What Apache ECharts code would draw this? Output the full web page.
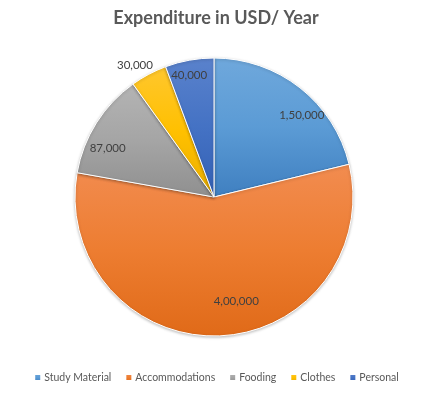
<!DOCTYPE html>
<html>
<head>
<meta charset="utf-8">
<script src="https://cdn.jsdelivr.net/npm/echarts@6/dist/echarts.min.js"></script>
<style>
  html, body { margin: 0; padding: 0; background: #fff; }
  #chart { width: 432px; height: 399px; }
</style>
</head>
<body>
<div id="chart"></div>
<script>
const categories = ["Study Material", "Accommodations", "Fooding", "Clothes", "Personal"];
const amounts = [150000, 400000, 87000, 30000, 40000];
const amountLabels = ["1,50,000", "4,00,000", "87,000", "30,000", "40,000"];

// excel style colours: light top, base, darker bottom
const palette = [
  ["#6fa8dc", "#5b9bd5", "#3f7fc0"],
  ["#f28c50", "#ed7d31", "#e06a18"],
  ["#b4b4b4", "#a5a5a5", "#8f8f8f"],
  ["#ffc72e", "#ffc000", "#eaae00"],
  ["#5a82cc", "#4472c4", "#3360b4"],
];
// nudges for the value labels (from the inside position)
const labelNudge = [[43, -25], [20, 32], [-45, -10], [-45, -68], [-12, -50]];

const grad = (c) => ({
  type: "linear", x: 0, y: 0, x2: 0, y2: 1,
  colorStops: [
    { offset: 0, color: c[0] },
    { offset: 0.5, color: c[1] },
    { offset: 1, color: c[2] },
  ],
});

const chart = echarts.init(document.getElementById("chart"));
chart.setOption({
  animation: false,
  title: {
    text: "Expenditure in USD/ Year",
    left: "center",
    top: 4,
    textStyle: { fontFamily: "Lato", fontWeight: "bold", fontSize: 18, color: "#595959" },
  },
  legend: {
    bottom: 11,
    left: "center",
    icon: "rect",
    itemWidth: 7,
    itemHeight: 7,
    itemGap: 13,
    textStyle: { fontFamily: "Lato", fontSize: 10.5, color: "#595959", padding: [0, 0, 0, -2] },
    data: categories,
  },
  series: [
    {
      type: "pie",
      center: [214, 197],
      radius: 139,
      startAngle: 90,
      clockwise: true,
      itemStyle: {
        borderColor: "#fff",
        borderWidth: 1,
        shadowBlur: 3,
        shadowColor: "rgba(0,0,0,0.25)",
        shadowOffsetY: 1,
      },
      label: {
        show: true,
        position: "inside",
        fontFamily: "Lato",
        fontSize: 11.5,
        color: "#404040",
        formatter: (p) => amountLabels[p.dataIndex],
      },
      labelLayout: (p) => ({ dx: labelNudge[p.dataIndex][0], dy: labelNudge[p.dataIndex][1] }),
      emphasis: { disabled: true },
      data: categories.map((name, i) => ({
        name: name,
        value: amounts[i],
        itemStyle: { color: grad(palette[i]) },
      })),
    },
  ],
});
</script>
</body>
</html>
